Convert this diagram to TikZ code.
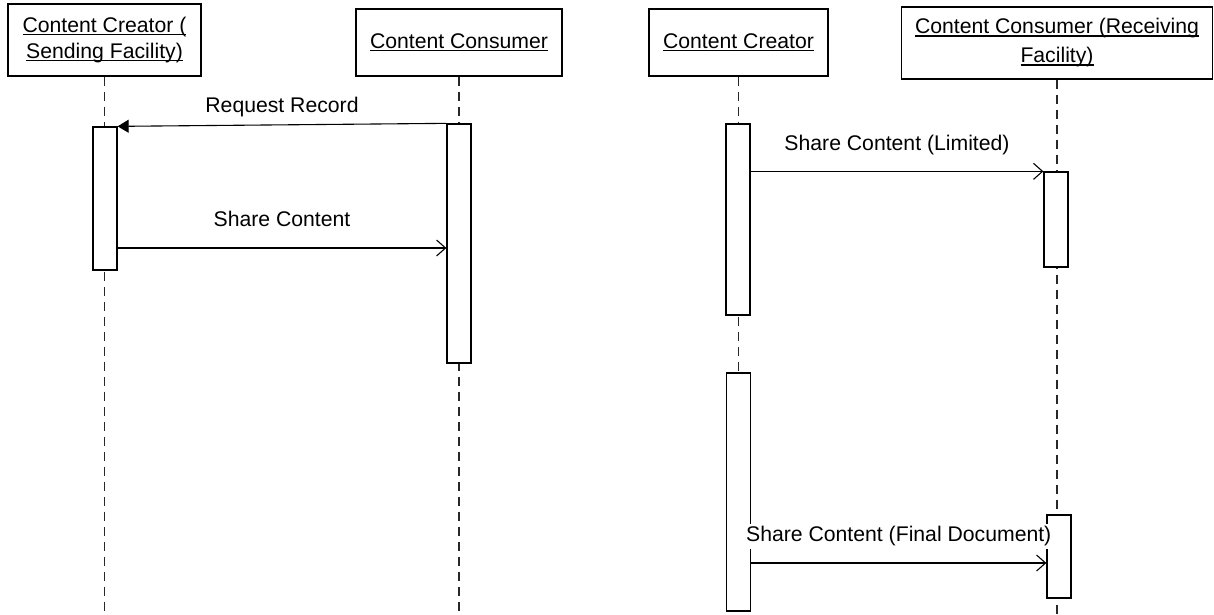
\documentclass[tikz,border=0pt]{standalone}
\usepackage{fontspec}
\setmainfont{Liberation Sans}
\usetikzlibrary{arrows.meta,positioning}
\definecolor{LifeClr}{RGB}{40,40,40}
\newcommand{\ulname}[1]{\setbox0\hbox{#1}\rlap{\vrule height -1.2pt depth 2.7pt width \wd0}\box0}

\begin{document}
\begin{tikzpicture}[x=1pt,y=-1pt,
  every node/.style={font=\fontsize{21.2}{26}\selectfont},
  head/.style={draw,line width=1.3pt,inner sep=0pt,align=center},
  actbar/.style={draw,fill=white,line width=1.3pt,minimum width=24pt,inner sep=0pt},
  lifeline/.style={draw=LifeClr,line width=1.4pt,dash pattern=on 9pt off 6pt},
  msg/.style={line width=1.1pt,-{Straight Barb[length=9pt,width=16pt,line width=1.1pt]}},
  reqmsg/.style={line width=1.1pt,-{Triangle[length=11pt,width=13pt]}},
  msglbl/.style={fill=white,inner sep=2pt,text height=16pt,text depth=5pt}]
\useasboundingbox (0,0) rectangle (1214,614);
\coordinate (bottom) at (0,614);
\coordinate (lvShare) at (0,248);
\coordinate (lvFinal) at (0,563);

% lifeline heads
\node[head,minimum width=193pt,minimum height=72pt] (cr1) at (104.5,40)
  {\ulname{Content Creator (}\\\ulname{Sending Facility)}};
\node[head,minimum width=206pt,minimum height=67pt] (con1) at (459,42.5)
  {\ulname{Content Consumer}};
\node[head,minimum width=179pt,minimum height=67pt] (cr2) at (738.5,42.5)
  {\ulname{Content Creator}};
\node[head,minimum width=311pt,minimum height=72pt] (con2) at (1057,43)
  {\ulname{Content Consumer (Receiving}\\[3pt]\ulname{Facility)}};

% lifelines
\draw[lifeline] (cr1.south) -- (cr1.south |- bottom);
\draw[lifeline] (con1.south) -- (con1.south |- bottom);
\draw[lifeline] (cr2.south) -- (cr2.south |- bottom);
\draw[lifeline] (con2.south) -- (con2.south |- bottom);

% activations
\node[actbar,minimum height=143pt] (crBarA) at (105,198.5) {};
\node[actbar,minimum height=239pt] (conBarA) at (459,243.5) {};
\node[actbar,minimum height=191pt] (crBarB1) at (738,219.5) {};
\node[actbar,minimum height=238pt] (crBarB2) at (738.5,492) {};
\node[actbar,minimum height=95pt] (conBarB1) at (1056,219.5) {};
\node[actbar,minimum height=83pt] (conBarB2) at (1059,556.5) {};

% messages
\draw[reqmsg] (conBarA.north west) -- (crBarA.north east)
  node[msglbl,midway,above=5pt] (lblReq) {Request Record};
\draw[msg] (crBarA.east |- lvShare) -- (conBarA.west |- lvShare)
  node[msglbl,midway,above=13.5pt] (lblShare) {Share Content};
\draw[msg] (crBarB1.east |- conBarB1.north) -- (conBarB1.north west)
  node[msglbl,midway,above=13.5pt] (lblLimited) {Share Content (Limited)};
\draw[msg] (crBarB2.east |- lvFinal) -- (conBarB2.west |- lvFinal)
  node[msglbl,midway,above=13.5pt] (lblFinal) {Share Content (Final Document)};

\end{tikzpicture}
\end{document}
